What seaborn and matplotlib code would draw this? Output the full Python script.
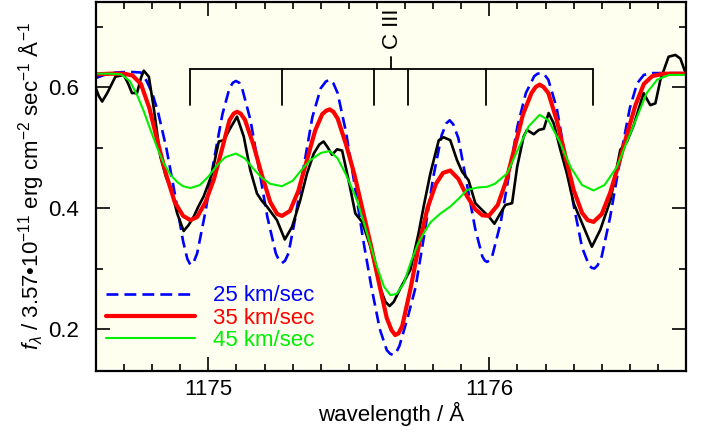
import matplotlib
matplotlib.use("Agg")
import matplotlib.pyplot as plt
from matplotlib.ticker import MultipleLocator, FormatStrFormatter
import seaborn as sns
import numpy as np

# ---------------- data ----------------
obs_wl = [1174.598, 1174.610, 1174.622, 1174.640, 1174.669, 1174.699, 1174.715, 1174.728,
          1174.746, 1174.760, 1174.770, 1174.788, 1174.805, 1174.829, 1174.850, 1174.865,
          1174.889, 1174.912, 1174.930, 1174.948, 1174.965, 1174.983, 1175.000, 1175.013,
          1175.037, 1175.055, 1175.078, 1175.102, 1175.126, 1175.149, 1175.173, 1175.190,
          1175.209, 1175.244, 1175.272, 1175.298, 1175.327, 1175.351, 1175.375, 1175.395,
          1175.410, 1175.425, 1175.440, 1175.458, 1175.476, 1175.499, 1175.523, 1175.547,
          1175.577, 1175.612, 1175.630, 1175.645, 1175.660, 1175.683, 1175.719, 1175.748,
          1175.766, 1175.790, 1175.820, 1175.837, 1175.861, 1175.885, 1175.903, 1175.926,
          1175.950, 1175.980, 1175.998, 1176.018, 1176.039, 1176.057, 1176.081, 1176.099,
          1176.122, 1176.134, 1176.158, 1176.176, 1176.194, 1176.211, 1176.229, 1176.253,
          1176.276, 1176.300, 1176.330, 1176.365, 1176.395, 1176.431, 1176.466, 1176.490,
          1176.514, 1176.549, 1176.573, 1176.591, 1176.609, 1176.638, 1176.662, 1176.680,
          1176.697]
obs_flux = [0.600, 0.585, 0.576, 0.590, 0.617, 0.620, 0.605, 0.590,
            0.590, 0.615, 0.627, 0.617, 0.567, 0.485, 0.450, 0.435,
            0.391, 0.362, 0.372, 0.386, 0.403, 0.419, 0.440, 0.457,
            0.510, 0.512, 0.532, 0.551, 0.518, 0.463, 0.424, 0.412,
            0.402, 0.380, 0.348, 0.369, 0.413, 0.457, 0.490, 0.505,
            0.510, 0.500, 0.488, 0.497, 0.495, 0.446, 0.391, 0.377,
            0.336, 0.267, 0.245, 0.238, 0.245, 0.267, 0.298, 0.358,
            0.402, 0.457, 0.512, 0.517, 0.512, 0.479, 0.460, 0.446,
            0.408, 0.394, 0.386, 0.374, 0.391, 0.405, 0.408, 0.468,
            0.518, 0.529, 0.522, 0.529, 0.531, 0.557, 0.540, 0.496,
            0.457, 0.408, 0.375, 0.336, 0.364, 0.413, 0.496, 0.510,
            0.537, 0.590, 0.570, 0.573, 0.612, 0.650, 0.653, 0.647,
            0.625]

v25_wl = [1174.60, 1174.63, 1174.67, 1174.72, 1174.76, 1174.78, 1174.80, 1174.82, 1174.85,
          1174.88, 1174.91, 1174.925, 1174.936, 1174.948, 1174.96, 1174.99, 1175.02, 1175.05,
          1175.075, 1175.087, 1175.098, 1175.11, 1175.12, 1175.15, 1175.18, 1175.21, 1175.24,
          1175.252, 1175.262, 1175.273, 1175.285, 1175.31, 1175.34, 1175.37, 1175.40, 1175.418,
          1175.431, 1175.445, 1175.46, 1175.49, 1175.52, 1175.55, 1175.58, 1175.61, 1175.635,
          1175.647, 1175.658, 1175.668, 1175.68, 1175.71, 1175.737, 1175.77, 1175.80, 1175.83,
          1175.847, 1175.859, 1175.872, 1175.89, 1175.92, 1175.95, 1175.975, 1175.984, 1175.992,
          1176.00, 1176.01, 1176.04, 1176.07, 1176.10, 1176.13, 1176.16, 1176.172, 1176.184,
          1176.197, 1176.21, 1176.24, 1176.27, 1176.30, 1176.33, 1176.355, 1176.365, 1176.374,
          1176.385, 1176.40, 1176.43, 1176.46, 1176.478, 1176.50, 1176.526, 1176.55, 1176.58,
          1176.70]
v25_flux = [0.615, 0.620, 0.624, 0.625, 0.624, 0.610, 0.590, 0.560, 0.500,
            0.425, 0.345, 0.316, 0.306, 0.311, 0.325, 0.395, 0.480, 0.555,
            0.598, 0.607, 0.610, 0.607, 0.598, 0.545, 0.465, 0.385, 0.325,
            0.313, 0.309, 0.313, 0.325, 0.385, 0.470, 0.550, 0.598, 0.609,
            0.612, 0.606, 0.590, 0.525, 0.440, 0.350, 0.270, 0.200, 0.165,
            0.159, 0.157, 0.161, 0.172, 0.220, 0.268, 0.360, 0.450, 0.520,
            0.540, 0.545, 0.538, 0.515, 0.440, 0.365, 0.320, 0.313, 0.311,
            0.313, 0.320, 0.375, 0.455, 0.535, 0.590, 0.618, 0.622, 0.623,
            0.620, 0.612, 0.565, 0.485, 0.405, 0.335, 0.305, 0.301, 0.300,
            0.305, 0.320, 0.385, 0.465, 0.512, 0.565, 0.606, 0.620, 0.623,
            0.623]

v35_wl = [1174.60, 1174.65, 1174.70, 1174.73, 1174.76, 1174.79, 1174.82, 1174.85, 1174.88,
          1174.91, 1174.936, 1174.96, 1174.99, 1175.02, 1175.05, 1175.075, 1175.09, 1175.102,
          1175.115, 1175.13, 1175.16, 1175.19, 1175.22, 1175.245, 1175.262, 1175.29, 1175.32,
          1175.35, 1175.38, 1175.405, 1175.42, 1175.432, 1175.445, 1175.46, 1175.49, 1175.52,
          1175.55, 1175.58, 1175.61, 1175.635, 1175.652, 1175.665, 1175.677, 1175.69, 1175.72,
          1175.75, 1175.78, 1175.81, 1175.835, 1175.861, 1175.89, 1175.92, 1175.95, 1175.975,
          1175.998, 1176.03, 1176.06, 1176.09, 1176.12, 1176.15, 1176.165, 1176.179, 1176.193,
          1176.21, 1176.24, 1176.27, 1176.30, 1176.33, 1176.35, 1176.371, 1176.40, 1176.43,
          1176.46, 1176.49, 1176.52, 1176.55, 1176.58, 1176.62, 1176.70]
v35_flux = [0.621, 0.622, 0.622, 0.619, 0.605, 0.565, 0.508, 0.455, 0.410,
            0.387, 0.380, 0.385, 0.410, 0.448, 0.500, 0.545, 0.556, 0.559,
            0.556, 0.546, 0.505, 0.455, 0.410, 0.390, 0.387, 0.395, 0.428,
            0.478, 0.528, 0.555, 0.561, 0.563, 0.559, 0.548, 0.505, 0.455,
            0.395, 0.335, 0.270, 0.218, 0.198, 0.190, 0.193, 0.205, 0.268,
            0.340, 0.400, 0.440, 0.458, 0.462, 0.448, 0.420, 0.398, 0.388,
            0.387, 0.405, 0.445, 0.500, 0.555, 0.590, 0.600, 0.604, 0.600,
            0.590, 0.545, 0.487, 0.430, 0.392, 0.380, 0.377, 0.390, 0.425,
            0.472, 0.522, 0.570, 0.605, 0.618, 0.622, 0.622]

v45_wl = [1174.60, 1174.65, 1174.69, 1174.72, 1174.746, 1174.77, 1174.794, 1174.82, 1174.841,
          1174.865, 1174.889, 1174.91, 1174.936, 1174.97, 1175.00, 1175.03, 1175.06, 1175.098,
          1175.13, 1175.16, 1175.19, 1175.22, 1175.262, 1175.30, 1175.33, 1175.36, 1175.40,
          1175.432, 1175.46, 1175.49, 1175.529, 1175.56, 1175.60, 1175.625, 1175.648, 1175.67,
          1175.695, 1175.72, 1175.745, 1175.766, 1175.79, 1175.826, 1175.86, 1175.89, 1175.921,
          1175.96, 1175.992, 1176.02, 1176.063, 1176.10, 1176.14, 1176.179, 1176.21, 1176.25,
          1176.29, 1176.33, 1176.371, 1176.41, 1176.454, 1176.49, 1176.526, 1176.56, 1176.597,
          1176.64, 1176.70]
v45_flux = [0.622, 0.622, 0.621, 0.610, 0.587, 0.560, 0.529, 0.497, 0.474,
            0.455, 0.443, 0.436, 0.433, 0.438, 0.452, 0.470, 0.484, 0.490,
            0.482, 0.465, 0.450, 0.440, 0.436, 0.445, 0.462, 0.478, 0.491,
            0.494, 0.482, 0.455, 0.413, 0.365, 0.303, 0.270, 0.256, 0.258,
            0.275, 0.310, 0.340, 0.358, 0.376, 0.391, 0.402, 0.415, 0.430,
            0.434, 0.435, 0.440, 0.457, 0.495, 0.535, 0.554, 0.545, 0.510,
            0.467, 0.438, 0.429, 0.438, 0.468, 0.510, 0.551, 0.590, 0.612,
            0.620, 0.620]

legend_labels = ["25 km/sec", "35 km/sec", "45 km/sec"]
ciii_lines = [1174.933, 1175.263, 1175.590, 1175.711, 1175.987, 1176.370]
ciii_label = "C III"
x_label = "wavelength / Å"
y_label = r"$f_{\lambda}$ / 3.57•10$^{-11}$ erg cm$^{-2}$ sec$^{-1}$ Å$^{-1}$"

# ---------------- style ----------------
sns.set_style("ticks")
plt.rcParams["font.family"] = ["Liberation Sans", "DejaVu Sans"]
plt.rcParams["mathtext.fontset"] = "custom"
plt.rcParams["mathtext.rm"] = "Liberation Sans"
plt.rcParams["mathtext.it"] = "Liberation Sans:italic"
plt.rcParams["mathtext.bf"] = "Liberation Sans:bold"

W, H = 708, 436
fig = plt.figure(figsize=(W / 100, H / 100), dpi=100)
fig.patch.set_facecolor("white")
ax = fig.add_axes([96 / W, 1 - 371 / H, 590 / W, 369 / H])
ax.set_facecolor("#FFFFF0")

FS = 16
BLUE, RED, GREEN = "#0000FF", "#FF0000", "#00EE00"

sns.lineplot(x=v25_wl, y=v25_flux, ax=ax, color=BLUE, linewidth=1.9,
             estimator=None, sort=False)
l25 = ax.lines[-1]
l25.set_dashes((4.5, 2.3))
sns.lineplot(x=obs_wl, y=obs_flux, ax=ax, color="black", linewidth=1.9,
             estimator=None, sort=False)
sns.lineplot(x=v35_wl, y=v35_flux, ax=ax, color=RED, linewidth=3.0,
             estimator=None, sort=False)
l35 = ax.lines[-1]
sns.lineplot(x=v45_wl, y=v45_flux, ax=ax, color=GREEN, linewidth=1.5,
             estimator=None, sort=False)
l45 = ax.lines[-1]
for ln in ax.lines:
    ln.set_solid_joinstyle("round")
    ln.set_dash_joinstyle("round")

# C III multiplet marks
bar_y, tick_y, stem_y = 0.63, 0.57, 0.65
center = (ciii_lines[0] + ciii_lines[-1]) / 2
ax.plot([ciii_lines[0], ciii_lines[-1]], [bar_y, bar_y], color="black", lw=1.3)
for wl in ciii_lines:
    ax.plot([wl, wl], [tick_y, bar_y], color="black", lw=1.3)
ax.plot([center, center], [bar_y, stem_y], color="black", lw=1.3)
ax.text(center + 0.005, 0.697, ciii_label, rotation=90, ha="center", va="center",
        fontsize=FS, color="black")

ax.set_xlim(1174.60, 1176.70)
ax.set_ylim(0.1306, 0.7405)

ax.xaxis.set_major_locator(MultipleLocator(1))
ax.xaxis.set_minor_locator(MultipleLocator(0.1))
ax.xaxis.set_major_formatter(FormatStrFormatter("%d"))
ax.yaxis.set_major_locator(MultipleLocator(0.2))
ax.yaxis.set_minor_locator(MultipleLocator(0.1))
ax.yaxis.set_major_formatter(FormatStrFormatter("%.1f"))

ax.tick_params(which="both", direction="in", top=True, right=True,
               color="black", width=1.2, labelsize=FS, labelcolor="black")
ax.tick_params(which="major", length=10)
ax.tick_params(which="minor", length=5)
ax.tick_params(axis="y", which="major", pad=12)
ax.tick_params(axis="x", which="major", pad=6)
for sp in ax.spines.values():
    sp.set_color("black")
    sp.set_linewidth(1.6)
    sp.set_visible(True)

ax.set_xlabel(x_label, fontsize=FS, color="black", labelpad=1)
fig.text(31 / W, 1 - 186 / H, y_label, rotation=90, ha="center", va="center",
         fontsize=FS, color="black")

leg = ax.legend(handles=[l25, l35, l45], labels=legend_labels, loc="lower left",
                bbox_to_anchor=(0.017, 0.055), frameon=False, fontsize=FS,
                handlelength=4.0, handletextpad=0.8, labelspacing=0.05,
                borderaxespad=0, borderpad=0)
for txt, c in zip(leg.get_texts(), [BLUE, RED, GREEN]):
    txt.set_color(c)

fig.savefig("out.png", dpi=100)
